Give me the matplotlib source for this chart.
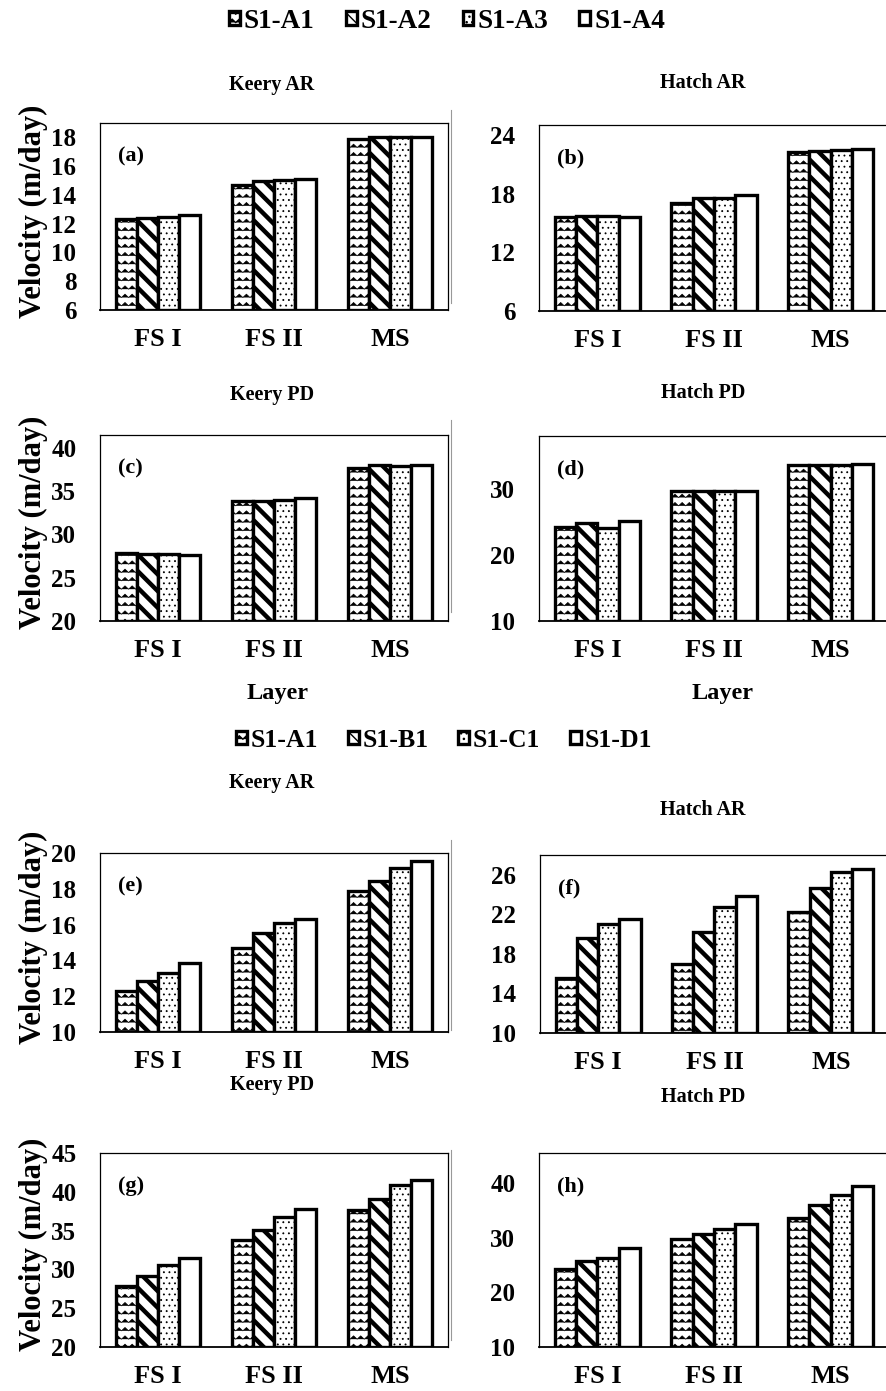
import numpy as np
import matplotlib
matplotlib.use("Agg")
import matplotlib.pyplot as plt
import matplotlib.hatch as mhatch
from matplotlib.patches import Rectangle
from matplotlib.lines import Line2D

plt.rcParams['font.family'] = ['Liberation Serif', 'DejaVu Serif']
plt.rcParams['font.weight'] = 'bold'

layers = ['FS I', 'FS II', 'MS']

# top block: S1-A1..S1-A4
names_top = ['S1-A1', 'S1-A2', 'S1-A3', 'S1-A4']
keery_ar_top = [[12.3, 14.7, 17.9], [12.4, 14.97, 18.03], [12.5, 15.05, 18.03], [12.6, 15.14, 18.05]]
hatch_ar_top = [[15.6, 17.0, 22.25], [15.7, 17.5, 22.3], [15.7, 17.5, 22.4], [15.6, 17.8, 22.5]]
keery_pd_top = [[27.85, 33.85, 37.7], [27.7, 33.9, 38.0], [27.7, 34.0, 37.9], [27.6, 34.2, 38.0]]
hatch_pd_top = [[24.2, 29.7, 33.6], [24.9, 29.6, 33.6], [24.1, 29.7, 33.6], [25.1, 29.75, 33.7]]

# bottom block: S1-A1, S1-B1, S1-C1, S1-D1
names_bot = ['S1-A1', 'S1-B1', 'S1-C1', 'S1-D1']
keery_ar_bot = [[12.3, 14.7, 17.9], [12.84, 15.55, 18.45], [13.3, 16.1, 19.15], [13.83, 16.33, 19.57]]
hatch_ar_bot = [[15.6, 17.0, 22.25], [19.6, 20.2, 24.7], [21.0, 22.75, 26.3], [21.5, 23.9, 26.6]]
keery_pd_bot = [[27.85, 33.85, 37.7], [29.1, 35.1, 39.1], [30.6, 36.8, 40.9], [31.5, 37.8, 41.5]]
hatch_pd_bot = [[24.2, 29.7, 33.6], [25.7, 30.7, 36.0], [26.3, 31.6, 37.8], [28.1, 32.5, 39.4]]


# zigzag hatch, takes the place of '|' (not used otherwise)
class ZigzagHatch(mhatch.HatchPatternBase):
    def __init__(self, hatch, density):
        self.num_rows = hatch.count('|') * density
        self.teeth = 14
        self.n = 2 * self.teeth + 1
        self.num_vertices = self.num_rows * self.n

    def set_vertices_and_codes(self, vertices, codes):
        xs = np.linspace(0, 1, self.n)
        amp = 0.4 / max(self.num_rows, 1)
        off = np.where(np.arange(self.n) % 2 == 1, amp, 0.0)
        for r in range(self.num_rows):
            y0 = (r + 0.3) / self.num_rows
            s = r * self.n
            vertices[s:s + self.n, 0] = xs
            vertices[s:s + self.n, 1] = y0 + off
            codes[s] = mhatch.Path.MOVETO
            codes[s + 1:s + self.n] = mhatch.Path.LINETO


mhatch._hatch_types[mhatch._hatch_types.index(mhatch.VerticalHatch)] = ZigzagHatch

hatches = ['||', '\\\\', '...', '']
hatch_lw = [0.5, 3.2, 0.6, 1.0]

W, H = 887, 1391
fig = plt.figure(figsize=(W / 100, H / 100), dpi=100)


def rect(l, t, r, b):
    return [l / W, 1 - b / H, (r - l) / W, (b - t) / H]


def panel(box, series, ylim, yticks, tag, ylabel):
    ax = fig.add_axes(rect(*box))
    x = np.arange(len(layers))
    w = 0.183
    bars = []
    for i, vals in enumerate(series):
        plt.rcParams['hatch.linewidth'] = hatch_lw[i]
        b = ax.bar(x + (i - 1.5) * w, np.array(vals) - ylim[0], w, bottom=ylim[0],
                   color='white', edgecolor='black', linewidth=2.4, hatch=hatches[i])
        for p in b:
            if hasattr(p, 'set_hatch_linewidth'):
                p.set_hatch_linewidth(hatch_lw[i])
        bars.append(b)
    ax.set_xlim(-0.5, 2.5)
    ax.set_ylim(*ylim)
    ax.set_yticks(yticks)
    ax.set_xticks(x)
    ax.set_xticklabels(layers, fontsize=19, fontweight='bold')
    ax.tick_params(axis='both', length=0)
    ax.tick_params(axis='y', labelsize=18, pad=17)
    ax.tick_params(axis='x', pad=13)
    for s in ax.spines.values():
        s.set_linewidth(0.9)
    ax.spines['bottom'].set_linewidth(1.3)
    ax.annotate(tag, xy=(0, 1), xycoords='axes fraction', xytext=(13, -24),
                textcoords='offset points', fontsize=16, fontweight='bold',
                va='center', ha='left')
    if ylabel:
        ax.set_ylabel('Velocity (m/day)', fontsize=22, fontweight='bold')
        ax.yaxis.set_label_coords(-0.15, 0.53)
    return ax, bars


ax_a, bars_top = panel((100, 123, 448, 310), keery_ar_top, (6, 19), range(6, 19, 2), '(a)', True)
panel((539, 125, 889, 311), hatch_ar_top, (6, 25), range(6, 25, 6), '(b)', False)
panel((100, 435, 448, 621), keery_pd_top, (20, 41.5), range(20, 41, 5), '(c)', True)
panel((539, 436, 889, 621), hatch_pd_top, (10, 38), [10, 20, 30], '(d)', False)
ax_e, bars_bot = panel((100, 853, 448, 1032), keery_ar_bot, (10, 20), range(10, 21, 2), '(e)', True)
panel((540, 855, 889, 1033), hatch_ar_bot, (10, 28), range(10, 27, 4), '(f)', False)
panel((100, 1153, 448, 1347), keery_pd_bot, (20, 45), range(20, 46, 5), '(g)', True)
panel((539, 1153, 889, 1347), hatch_pd_bot, (10, 45.5), [10, 20, 30, 40], '(h)', False)

titles = [('Keery AR', 272, 85), ('Hatch AR', 703, 83), ('Keery PD', 272, 395), ('Hatch PD', 703, 393),
          ('Keery AR', 272, 783), ('Hatch AR', 703, 810), ('Keery PD', 272, 1085), ('Hatch PD', 703, 1097)]
for t, tx, ty in titles:
    fig.text(tx / W, 1 - ty / H, t, fontsize=14.5, fontweight='bold', ha='center', va='center')

for tx in (278, 723):
    fig.text(tx / W, 1 - 693 / H, 'Layer', fontsize=17.5, fontweight='bold', ha='center', va='center')

leg_kw = dict(loc='center', ncol=4, frameon=False, handletextpad=0.15, columnspacing=1.15)
fig.legend([b[0] for b in bars_top], names_top, bbox_to_anchor=(447 / W, 1 - 21 / H),
           handlelength=0.4, handleheight=0.4, prop={'size': 19.5, 'weight': 'bold'}, **leg_kw)
fig.legend([b[0] for b in bars_bot], names_bot, bbox_to_anchor=(444 / W, 1 - 740 / H),
           handlelength=0.42, handleheight=0.42, prop={'size': 18.5, 'weight': 'bold'}, **leg_kw)

# chart-area border remnants of the right-hand charts
for y0, y1 in [(110, 303), (420, 612), (840, 1030), (1150, 1340)]:
    fig.add_artist(Line2D([451 / W, 451 / W], [1 - y0 / H, 1 - y1 / H], color='#999999', lw=0.8))

# (f) x tick labels are cut off at the chart edge in the original
fig.add_artist(Rectangle((480 / W, 1 - 1088 / H), (W - 480) / W, 14 / H, transform=fig.transFigure,
                         facecolor='white', edgecolor='none', zorder=10))

fig.savefig('out.png', dpi=100)
